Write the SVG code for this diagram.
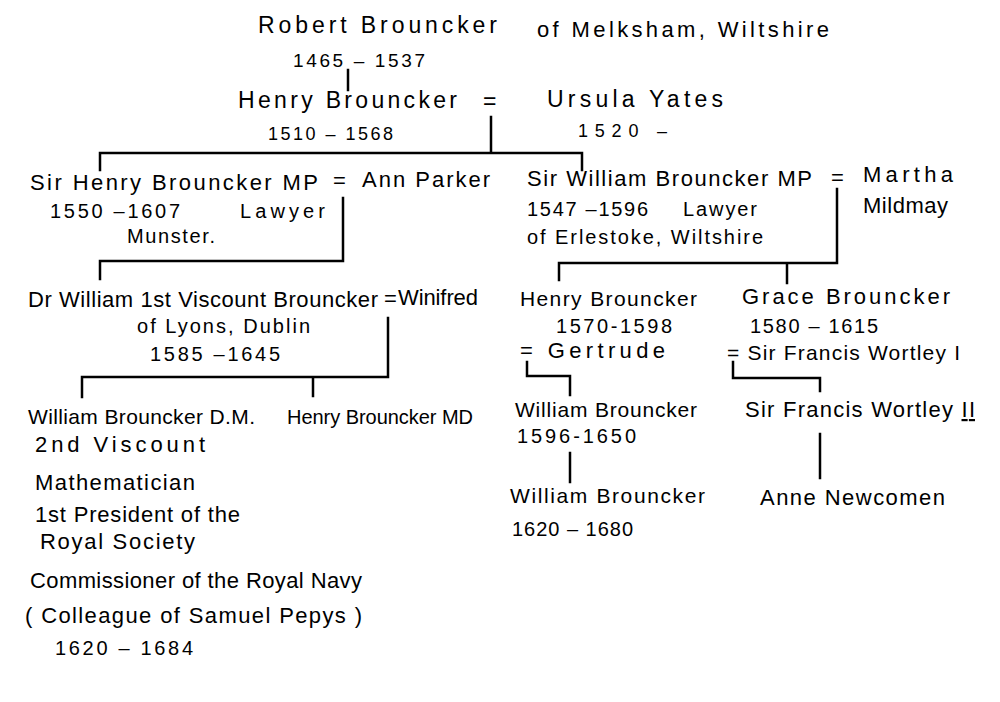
<svg xmlns="http://www.w3.org/2000/svg" width="1000" height="702" viewBox="0 0 1000 702">
<style>
text{font-family:"Liberation Sans",Arial,sans-serif;fill:#000}
.t{font-size:22px}
.s{font-size:21px}
.d{font-size:20px}
.e{font-size:23px}
.y{font-size:18px}
.c{fill:none;stroke:#000;stroke-width:2.5;stroke-linecap:square}
</style>
<rect width="1000" height="702" fill="#fff"/>
<g id="connectors">
<path class="c" d="M348,70 V90"/>
<path class="c" d="M491,117 V152 M100,170 V153 H582 V170"/>
<path class="c" d="M343,198 V261 H100 V279"/>
<path class="c" d="M837,189 V263 H559 V280 M787,263 V283"/>
<path class="c" d="M388,318 V377 H82 V397 M313,377 V396"/>
<path class="c" d="M527,362 V376 H570 V395"/>
<path class="c" d="M733,362 V378 H820 V391"/>
<path class="c" d="M570,453 V482"/>
<path class="c" d="M820,434 V478"/>
</g>
<g id="robert">
<text class="e" x="258" y="33" textLength="239">Robert Brouncker</text>
<text class="t" x="537" y="37" textLength="292">of Melksham, Wiltshire</text>
<text style="font-size:19px" x="293" y="67" textLength="132">1465 – 1537</text>
</g>
<g id="henry1">
<text class="e" x="238" y="108" textLength="219">Henry Brouncker</text>
<text class="e" x="483" y="109">=</text>
<text class="y" x="268" y="140" textLength="125">1510 – 1568</text>
</g>
<g id="ursula">
<text class="e" x="547" y="107" textLength="176">Ursula Yates</text>
<text class="y" x="578" y="137" textLength="89">1520 –</text>
</g>
<g id="sirhenry">
<text class="t" x="30" y="190" textLength="288">Sir Henry Brouncker MP</text>
<text class="t" x="333" y="188">=</text>
<text class="d" x="50" y="218" textLength="130">1550 –1607</text>
<text class="d" x="240" y="218" textLength="85">Lawyer</text>
<text class="d" x="127" y="243" textLength="88">Munster.</text>
</g>
<g id="annparker">
<text class="t" x="362" y="187" textLength="128">Ann Parker</text>
</g>
<g id="sirwilliam">
<text class="t" x="527" y="186" textLength="285">Sir William Brouncker MP</text>
<text class="t" x="831" y="185">=</text>
<text class="d" x="527" y="216" textLength="121">1547 –1596</text>
<text class="d" x="683" y="216" textLength="74">Lawyer</text>
<text class="d" x="527" y="244" textLength="236">of Erlestoke, Wiltshire</text>
</g>
<g id="martha">
<text class="t" x="863" y="182" textLength="90">Martha</text>
<text class="t" x="863" y="213" textLength="85">Mildmay</text>
</g>
<g id="drwilliam">
<text class="t" x="28" y="307" textLength="350">Dr William 1st Viscount Brouncker</text>
<text class="t" x="384" y="306">=</text>
<text class="d" x="137" y="333" textLength="173">of Lyons, Dublin</text>
<text class="d" x="150" y="361" textLength="130">1585 –1645</text>
</g>
<g id="winifred">
<text class="t" x="398" y="305" textLength="80">Winifred</text>
</g>
<g id="henry2">
<text class="s" x="520" y="306" textLength="177">Henry Brouncker</text>
<text class="d" x="556" y="333" textLength="116">1570-1598</text>
<text class="t" x="520" y="358" textLength="145">= Gertrude</text>
</g>
<g id="grace">
<text class="t" x="742" y="304" textLength="208">Grace Brouncker</text>
<text class="d" x="750" y="333" textLength="128">1580 – 1615</text>
<text class="s" x="727" y="360" textLength="233">= Sir Francis Wortley I</text>
</g>
<g id="william2nd">
<text class="s" x="28" y="424" textLength="227">William Brouncker D.M.</text>
<text class="t" x="35" y="452" textLength="170">2nd Viscount</text>
<text class="t" x="35" y="490" textLength="160">Mathematician</text>
<text class="t" x="35" y="522" textLength="205">1st President of the</text>
<text class="t" x="40" y="549" textLength="155">Royal Society</text>
<text class="t" x="30" y="588" textLength="332">Commissioner of the Royal Navy</text>
<text class="t" x="25" y="623" textLength="337">( Colleague of Samuel Pepys )</text>
<text class="d" x="55" y="655" textLength="138">1620 – 1684</text>
</g>
<g id="henrymd">
<text class="d" x="287" y="424" textLength="186">Henry Brouncker MD</text>
</g>
<g id="william1596">
<text class="s" x="515" y="417" textLength="182">William Brouncker</text>
<text class="d" x="517" y="443" textLength="119">1596-1650</text>
</g>
<g id="william1620">
<text class="s" x="510" y="503" textLength="195">William Brouncker</text>
<text class="d" x="512" y="536" textLength="121">1620 – 1680</text>
</g>
<g id="francis2">
<text class="t" x="745" y="417" textLength="230">Sir Francis Wortley <tspan text-decoration="underline">II</tspan></text>
</g>
<g id="anne">
<text class="t" x="760" y="505" textLength="185">Anne Newcomen</text>
</g>
</svg>
